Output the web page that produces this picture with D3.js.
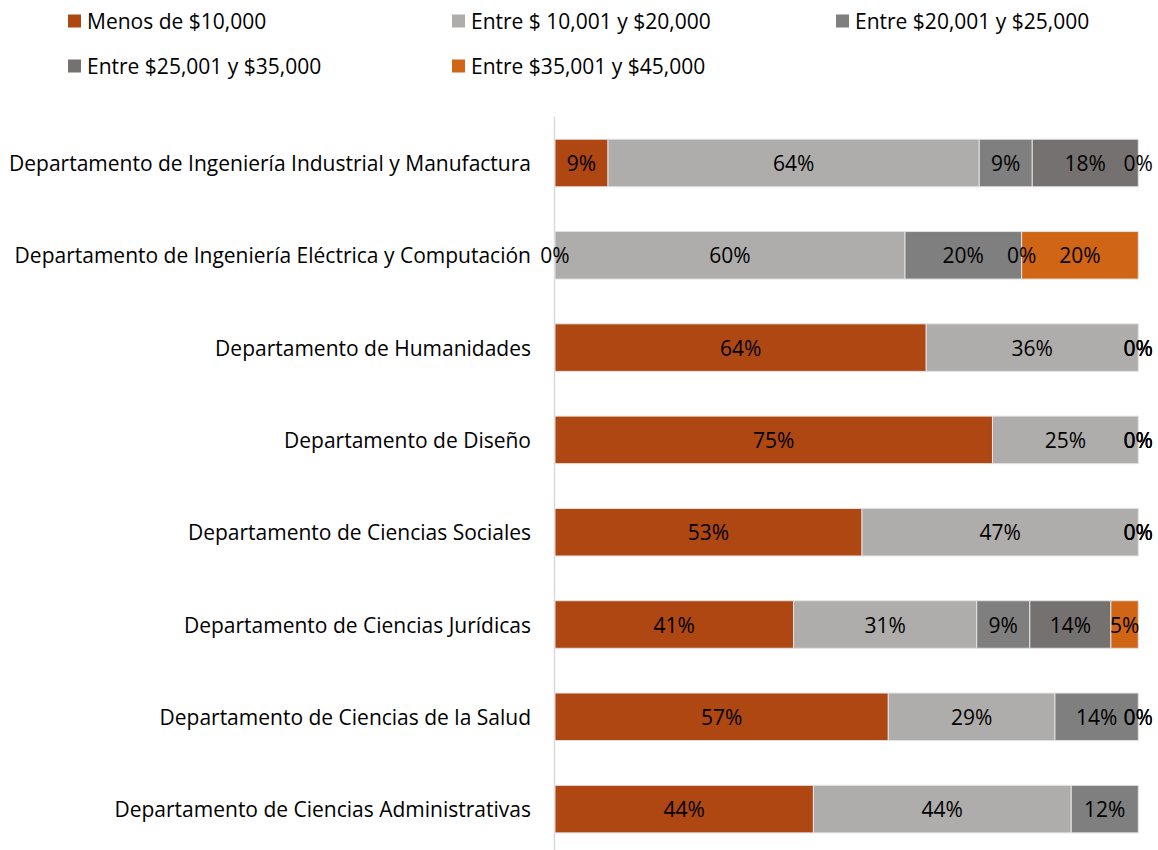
<!DOCTYPE html>
<html>
<head>
<meta charset="utf-8">
<script src="https://cdn.jsdelivr.net/npm/d3@7/dist/d3.min.js"></script>
<style>
  html, body { margin: 0; padding: 0; background: #ffffff; }
  svg { display: block; }
  text { font-family: "Open Sans", Lato, sans-serif; }
</style>
</head>
<body>
<svg id="chart" width="1158" height="850"></svg>
<script>
// ---- data ----
const categories = [
  "Departamento de Ingeniería Industrial y Manufactura",
  "Departamento de Ingeniería Eléctrica y Computación",
  "Departamento de Humanidades",
  "Departamento de Diseño",
  "Departamento de Ciencias Sociales",
  "Departamento de Ciencias Jurídicas",
  "Departamento de Ciencias de la Salud",
  "Departamento de Ciencias Administrativas"
];
const seriesNames = [
  "Menos de $10,000",
  "Entre $ 10,001 y $20,000",
  "Entre $20,001 y $25,000",
  "Entre $25,001 y $35,000",
  "Entre $35,001 y $45,000"
];
const menos10000   = [9.09, 0,     63.64, 75, 52.63, 40.9, 57.14, 44.3];
const entre10a20   = [63.64, 60,   36.36, 25, 47.37, 31.4, 28.57, 44.2];
const entre20a25   = [9.09, 20,    0,     0,  0,     9.1,  14.29, 11.5];
const entre25a35   = [18.18, 0,    0,     0,  0,     13.9, 0,     null];
const entre35a45   = [0,    20,    0,     0,  0,     4.7,  0,     null];
const seriesValues = [menos10000, entre10a20, entre20a25, entre25a35, entre35a45];
const colors = ["#AE4711", "#AEADAB", "#7F7F7F", "#767171", "#D16516"];

// ---- build table ----
const table = categories.map((c, i) => {
  const row = { category: c };
  seriesNames.forEach((s, j) => { row[s] = seriesValues[j][i]; });
  return row;
});

const stack = d3.stack()
  .keys(seriesNames)
  .value((d, key) => d[key] == null ? 0 : d[key]);
const stacked = stack(table);

const svg = d3.select("#chart");
const fontSize = 21;

const x = d3.scaleLinear().domain([0, 100]).range([555, 1138.3]);
const y = d3.scaleBand().domain(categories)
  .range([116.85, 855.25])
  .paddingInner(0.485)
  .paddingOuter(0.2425);

// axis line (category axis)
svg.append("line")
  .attr("x1", 554.5).attr("x2", 554.5)
  .attr("y1", y.range()[0]).attr("y2", 850)
  .attr("stroke", "#d9d9d9").attr("stroke-width", 1.5);

// bars
const groups = svg.selectAll("g.series").data(stacked).join("g")
  .attr("class", "series")
  .attr("fill", (d, i) => colors[i]);

groups.selectAll("rect")
  .data(d => d.map(p => ({ p, key: d.key })).filter(o => o.p.data[o.key] != null && o.p.data[o.key] > 0))
  .join("rect")
  .attr("x", o => x(o.p[0]))
  .attr("width", o => x(o.p[1]) - x(o.p[0]))
  .attr("y", o => y(o.p.data.category))
  .attr("height", y.bandwidth())
  .attr("stroke", "#e3e3e3")
  .attr("stroke-width", 1);

// data labels
const labelGroups = svg.selectAll("g.labels").data(stacked).join("g").attr("class", "labels");
labelGroups.selectAll("text")
  .data(d => d.map(p => ({ p, key: d.key })).filter(o => o.p.data[o.key] != null))
  .join("text")
  .attr("x", o => (x(o.p[0]) + x(o.p[1])) / 2)
  .attr("y", o => y(o.p.data.category) + y.bandwidth() / 2)
  .attr("text-anchor", "middle")
  .attr("dominant-baseline", "central")
  .attr("font-size", fontSize)
  .attr("fill", "#000")
  .text(o => Math.round(o.p.data[o.key]) + "%");

// category labels
svg.append("g").selectAll("text")
  .data(categories)
  .join("text")
  .attr("x", 531)
  .attr("y", d => y(d) + y.bandwidth() / 2)
  .attr("text-anchor", "end")
  .attr("dominant-baseline", "central")
  .attr("font-size", fontSize)
  .attr("fill", "#000")
  .text(d => d);

// legend
const legend = svg.append("g").selectAll("g")
  .data(seriesNames)
  .join("g")
  .attr("transform", (d, i) => `translate(${68 + (i % 3) * 384},${21 + Math.floor(i / 3) * 45})`);
legend.append("rect")
  .attr("x", 0).attr("y", -6.5)
  .attr("width", 13).attr("height", 13)
  .attr("fill", (d, i) => colors[i]);
legend.append("text")
  .attr("x", 19).attr("y", 0)
  .attr("dominant-baseline", "central")
  .attr("font-size", fontSize)
  .attr("fill", "#000")
  .text(d => d);
</script>
</body>
</html>
